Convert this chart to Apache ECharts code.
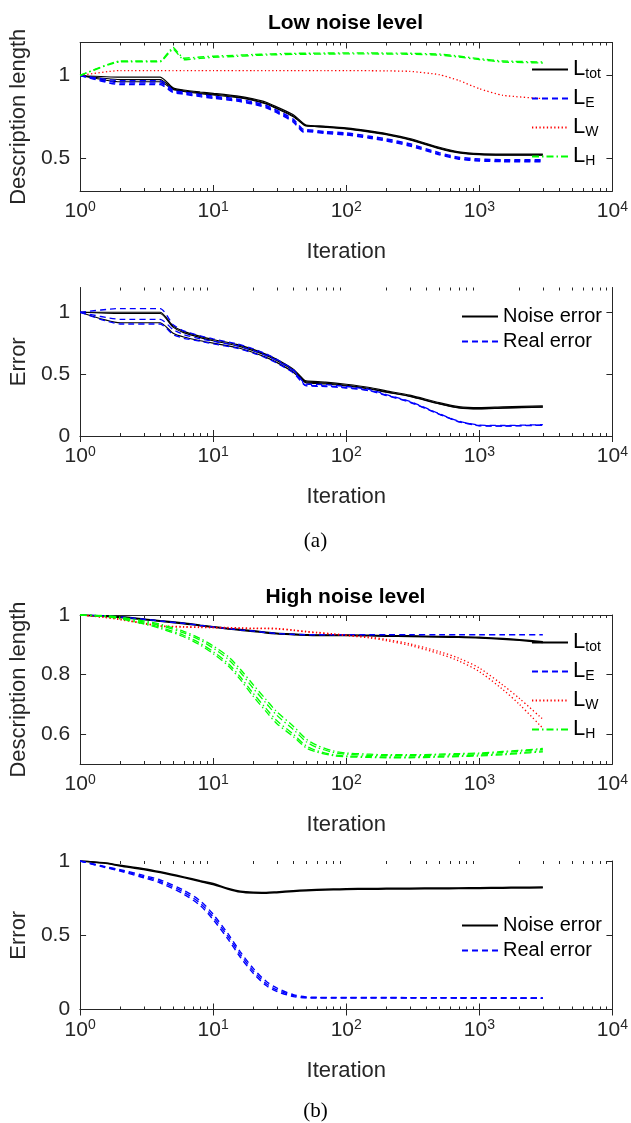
<!DOCTYPE html>
<html><head><meta charset="utf-8">
<script src="https://cdn.jsdelivr.net/npm/echarts@6/dist/echarts.min.js"></script>
<style>html,body{margin:0;padding:0;background:#fff}#c{width:631px;height:1123px}</style>
</head><body><div id="c"></div>
<script>
// ---------- DATA ----------
const lowIter = [1, 2, 4, 5, 6, 8, 10, 15, 20, 25, 30, 40, 48, 50, 70, 100, 150, 200, 300, 500, 700, 1000, 1500, 3000];
// Low noise: description length
const lowLtotA = [1, 0.99, 0.99, 0.925, 0.912, 0.9, 0.892, 0.876, 0.858, 0.838, 0.81, 0.762, 0.708, 0.7, 0.692, 0.682, 0.664, 0.648, 0.618, 0.565, 0.538, 0.526, 0.523, 0.523];
const lowLtotB = [1, 0.975, 0.975, 0.92, 0.907, 0.895, 0.887, 0.871, 0.853, 0.831, 0.803, 0.755, 0.703, 0.696, 0.688, 0.678, 0.66, 0.644, 0.613, 0.56, 0.534, 0.522, 0.519, 0.519];
const lowLtotC = [1, 0.962, 0.962, 0.915, 0.903, 0.89, 0.882, 0.867, 0.849, 0.827, 0.799, 0.75, 0.7, 0.694, 0.686, 0.676, 0.657, 0.641, 0.61, 0.557, 0.531, 0.52, 0.517, 0.517];
const lowLeA = [1, 0.968, 0.968, 0.91, 0.9, 0.885, 0.875, 0.858, 0.84, 0.818, 0.79, 0.735, 0.672, 0.672, 0.66, 0.652, 0.632, 0.616, 0.586, 0.532, 0.505, 0.494, 0.49, 0.49];
const lowLeB = [1, 0.955, 0.955, 0.903, 0.893, 0.878, 0.868, 0.851, 0.833, 0.811, 0.782, 0.726, 0.662, 0.665, 0.654, 0.645, 0.625, 0.609, 0.579, 0.525, 0.498, 0.487, 0.483, 0.483];
const lowLeC = [1, 0.945, 0.945, 0.897, 0.887, 0.872, 0.862, 0.845, 0.827, 0.805, 0.775, 0.718, 0.655, 0.66, 0.649, 0.64, 0.62, 0.603, 0.573, 0.52, 0.493, 0.482, 0.478, 0.478];
const lowLw = [1, 1.03, 1.03, 1.03, 1.03, 1.03, 1.03, 1.03, 1.03, 1.03, 1.03, 1.03, 1.03, 1.03, 1.03, 1.03, 1.029, 1.028, 1.025, 1.005, 0.97, 0.92, 0.88, 0.86];
const lowLhA = [1, 1.088, 1.088, 1.17, 1.105, 1.112, 1.117, 1.123, 1.127, 1.13, 1.132, 1.134, 1.135, 1.135, 1.136, 1.137, 1.137, 1.136, 1.135, 1.13, 1.118, 1.102, 1.088, 1.082];
const lowLhB = [1, 1.083, 1.083, 1.16, 1.095, 1.104, 1.11, 1.116, 1.121, 1.124, 1.126, 1.128, 1.129, 1.129, 1.13, 1.131, 1.131, 1.13, 1.129, 1.124, 1.112, 1.096, 1.082, 1.076];
// Low noise: error
const lowNoiseA = [1, 1.0, 1.0, 0.89, 0.845, 0.805, 0.78, 0.74, 0.70, 0.66, 0.62, 0.54, 0.455, 0.445, 0.435, 0.418, 0.392, 0.365, 0.33, 0.27, 0.238, 0.23, 0.236, 0.243];
const lowNoiseB = [1, 0.99, 0.99, 0.88, 0.835, 0.795, 0.77, 0.73, 0.69, 0.65, 0.61, 0.53, 0.447, 0.437, 0.427, 0.41, 0.384, 0.357, 0.322, 0.262, 0.23, 0.222, 0.228, 0.235];
const lowNoiseC = [1, 0.915, 0.915, 0.83, 0.80, 0.77, 0.75, 0.715, 0.675, 0.635, 0.595, 0.515, 0.44, 0.43, 0.42, 0.405, 0.38, 0.354, 0.32, 0.26, 0.228, 0.22, 0.226, 0.233];
const lowRealA = [1, 1.03, 1.03, 0.9, 0.85, 0.81, 0.785, 0.745, 0.705, 0.663, 0.62, 0.535, 0.43, 0.42, 0.415, 0.4, 0.375, 0.335, 0.28, 0.18, 0.12, 0.088, 0.085, 0.092];
const lowRealB = [1, 0.943, 0.943, 0.86, 0.82, 0.785, 0.765, 0.73, 0.69, 0.65, 0.61, 0.528, 0.42, 0.41, 0.405, 0.392, 0.368, 0.33, 0.276, 0.177, 0.117, 0.085, 0.082, 0.089];
const lowRealC = [1, 0.905, 0.905, 0.82, 0.79, 0.765, 0.745, 0.71, 0.67, 0.63, 0.59, 0.51, 0.415, 0.405, 0.40, 0.388, 0.365, 0.327, 0.273, 0.175, 0.115, 0.083, 0.08, 0.087];

const highIter = [1, 1.5, 2, 3, 4, 6, 8, 10, 13, 16, 20, 25, 30, 40, 50, 60, 80, 100, 150, 200, 300, 500, 700, 1000, 1500, 2000, 3000];
// High noise: description length
const highLtotA = [1, 0.997, 0.994, 0.987, 0.981, 0.973, 0.966, 0.961, 0.955, 0.951, 0.947, 0.942, 0.939, 0.936, 0.934, 0.933, 0.933, 0.933, 0.932, 0.931, 0.93, 0.928, 0.927, 0.925, 0.921, 0.917, 0.91];
const highLtotB = [1, 0.996, 0.992, 0.985, 0.979, 0.971, 0.964, 0.959, 0.953, 0.949, 0.945, 0.94, 0.937, 0.934, 0.932, 0.931, 0.931, 0.931, 0.93, 0.929, 0.928, 0.926, 0.925, 0.923, 0.919, 0.915, 0.908];
const highLe = [1, 0.997, 0.993, 0.986, 0.98, 0.972, 0.965, 0.96, 0.954, 0.95, 0.946, 0.941, 0.938, 0.935, 0.934, 0.934, 0.934, 0.934, 0.934, 0.934, 0.934, 0.934, 0.934, 0.934, 0.934, 0.934, 0.934];
const highLwA = [1, 0.993, 0.986, 0.973, 0.964, 0.961, 0.96, 0.959, 0.958, 0.957, 0.956, 0.956, 0.955, 0.95, 0.945, 0.942, 0.937, 0.933, 0.926, 0.918, 0.903, 0.877, 0.855, 0.822, 0.765, 0.72, 0.65];
const highLwB = [1, 0.992, 0.984, 0.971, 0.962, 0.959, 0.958, 0.957, 0.956, 0.955, 0.954, 0.954, 0.953, 0.948, 0.943, 0.94, 0.935, 0.931, 0.923, 0.914, 0.898, 0.87, 0.846, 0.81, 0.75, 0.7, 0.62];
const highLhA = [1, 0.998, 0.993, 0.98, 0.969, 0.945, 0.921, 0.896, 0.86, 0.818, 0.766, 0.716, 0.676, 0.627, 0.584, 0.563, 0.544, 0.537, 0.533, 0.531, 0.531, 0.533, 0.535, 0.537, 0.542, 0.546, 0.552];
const highLhB = [1, 0.997, 0.991, 0.977, 0.965, 0.94, 0.915, 0.889, 0.851, 0.808, 0.754, 0.704, 0.664, 0.616, 0.575, 0.556, 0.539, 0.533, 0.529, 0.528, 0.528, 0.53, 0.532, 0.534, 0.539, 0.543, 0.549];
const highLhC = [1, 0.996, 0.989, 0.973, 0.959, 0.932, 0.905, 0.877, 0.837, 0.792, 0.737, 0.686, 0.646, 0.6, 0.561, 0.545, 0.531, 0.527, 0.525, 0.524, 0.524, 0.526, 0.528, 0.53, 0.534, 0.538, 0.544];
const highLhD = [1, 0.995, 0.987, 0.97, 0.955, 0.927, 0.899, 0.87, 0.829, 0.783, 0.727, 0.676, 0.636, 0.592, 0.554, 0.54, 0.528, 0.524, 0.522, 0.521, 0.521, 0.523, 0.525, 0.527, 0.531, 0.535, 0.541];
// High noise: error
const highNoiseA = [1, 0.988, 0.971, 0.948, 0.927, 0.893, 0.867, 0.848, 0.815, 0.796, 0.789, 0.788, 0.792, 0.8, 0.805, 0.808, 0.811, 0.813, 0.815, 0.816, 0.817, 0.818, 0.819, 0.82, 0.822, 0.823, 0.825];
const highNoiseB = [1, 0.986, 0.967, 0.943, 0.922, 0.888, 0.862, 0.842, 0.81, 0.791, 0.784, 0.783, 0.787, 0.795, 0.8, 0.803, 0.806, 0.808, 0.81, 0.811, 0.812, 0.813, 0.814, 0.815, 0.817, 0.818, 0.82];
const highRealA = [1, 0.965, 0.942, 0.903, 0.872, 0.803, 0.731, 0.641, 0.507, 0.388, 0.277, 0.19, 0.145, 0.1, 0.085, 0.082, 0.081, 0.081, 0.081, 0.081, 0.08, 0.08, 0.08, 0.079, 0.079, 0.078, 0.078];
const highRealB = [1, 0.962, 0.937, 0.895, 0.862, 0.79, 0.715, 0.623, 0.489, 0.37, 0.26, 0.175, 0.133, 0.093, 0.081, 0.08, 0.08, 0.08, 0.08, 0.08, 0.079, 0.079, 0.079, 0.078, 0.078, 0.077, 0.077];
const highRealC = [1, 0.959, 0.932, 0.887, 0.852, 0.777, 0.699, 0.605, 0.471, 0.352, 0.244, 0.162, 0.122, 0.087, 0.078, 0.077, 0.077, 0.077, 0.077, 0.077, 0.077, 0.077, 0.076, 0.076, 0.076, 0.075, 0.075];

// Axes / ticks
const xMin = 1, xMax = 10000;
const minorTicks = [2,3,4,5,6,7,8,9,20,30,40,50,60,70,80,90,200,300,400,500,600,700,800,900,2000,3000,4000,5000,6000,7000,8000,9000];
const yRanges = [[0.3, 1.2], [0, 1.2], [0.5, 1.0], [0, 1.0]];
const yTicks = [[0.5, 1], [0, 0.5, 1], [0.6, 0.8, 1], [0, 0.5, 1]];
const yNames = ['Description length', 'Error', 'Description length', 'Error'];
const titles = ['Low noise level', 'High noise level'];
const captions = ['(a)', '(b)'];
const subs = { Ltot: 'tot', LE: 'E', LW: 'W', LH: 'H' };

// ---------- CHART ----------
const FONT = '"Liberation Sans", Arial, Helvetica, sans-serif';
const AX = '#262626';
const grids = [
  { left: 77, width: 537, top: 42.5, height: 148.5 },
  { left: 77, width: 537, top: 287.5, height: 148.5 },
  { left: 77, width: 537, top: 615, height: 149 },
  { left: 77, width: 537, top: 861, height: 148.5 }
];

const xAxes = [], yAxes = [];
grids.forEach((g, i) => {
  xAxes.push({
    type: 'log', logBase: 10, min: xMin, max: xMax, gridIndex: i, position: 'bottom',
    axisLine: { show: true, lineStyle: { color: AX, width: 1 } },
    axisTick: { show: true, inside: true, length: 6, lineStyle: { color: AX } },
    splitLine: { show: false },
    axisLabel: {
      margin: 9, color: AX, fontFamily: FONT,
      formatter: v => '{n|10}{e|' + Math.round(Math.log10(v)) + '}',
      rich: {
        n: { fontSize: 21, fontFamily: FONT, color: AX, lineHeight: 22, verticalAlign: 'bottom' },
        e: { fontSize: 14, fontFamily: FONT, color: AX, lineHeight: 14, verticalAlign: 'top' }
      }
    },
    name: 'Iteration', nameLocation: 'middle', nameGap: 50,
    nameTextStyle: { fontSize: 22, fontFamily: FONT, color: AX }
  });
  xAxes.push({
    type: 'log', logBase: 10, min: xMin, max: xMax, gridIndex: i, position: 'top',
    axisLine: { show: true, lineStyle: { color: AX, width: 1 } },
    axisTick: { show: true, inside: true, length: 6, lineStyle: { color: AX } },
    axisLabel: { show: false }, splitLine: { show: false }
  });
  yAxes.push({
    type: 'value', min: yRanges[i][0], max: yRanges[i][1], gridIndex: i, position: 'left',
    axisLine: { show: true, lineStyle: { color: AX, width: 1 } },
    axisTick: { show: true, inside: true, length: 6, lineStyle: { color: AX }, customValues: yTicks[i] },
    axisLabel: { show: true, customValues: yTicks[i], margin: 10, fontSize: 21, fontFamily: FONT, color: AX, formatter: v => String(+v.toFixed(2)) },
    splitLine: { show: false },
    name: yNames[i], nameLocation: 'middle', nameGap: 45,
    nameTextStyle: { fontSize: 22, fontFamily: FONT, color: AX }
  });
  yAxes.push({
    type: 'value', min: yRanges[i][0], max: yRanges[i][1], gridIndex: i, position: 'right',
    axisLine: { show: true, lineStyle: { color: AX, width: 1 } },
    axisTick: { show: true, inside: true, length: 6, lineStyle: { color: AX }, customValues: yTicks[i] },
    axisLabel: { show: false }, splitLine: { show: false }
  });
});

function line(name, xs, ys, panel, color, dash, width, sm) {
  return {
    type: 'line', name: name, xAxisIndex: panel * 2, yAxisIndex: panel * 2,
    data: xs.map((x, k) => [x, ys[k]]),
    symbol: 'none', showSymbol: false, smooth: sm === undefined ? 0.3 : sm, animation: false, silent: true,
    lineStyle: { color: color, width: width || 1.2, type: dash || 'solid' },
    itemStyle: { color: color }, z: 3
  };
}
const DASH = [6, 4], DOT = [1.3, 2.4], DASHDOT = [7, 3, 1.5, 3];
const BLK = '#000000', BLU = '#0000ff', RED = '#ff0000', GRN = '#00ff00';

const series = [
  line('Ltot', lowIter, lowLtotA, 0, BLK, null, 1.2, 0.2), line('Ltot', lowIter, lowLtotB, 0, BLK, null, 1.2, 0.2), line('Ltot', lowIter, lowLtotC, 0, BLK, null, 1.2, 0.2),
  line('LE', lowIter, lowLeA, 0, BLU, DASH, 1.5, 0.2), line('LE', lowIter, lowLeB, 0, BLU, DASH, 1.5, 0.2), line('LE', lowIter, lowLeC, 0, BLU, DASH, 1.5, 0.2),
  line('LW', lowIter, lowLw, 0, RED, DOT, 1.3, 0.2),
  line('LH', lowIter, lowLhA, 0, GRN, DASHDOT, 1.4, 0.15), line('LH', lowIter, lowLhB, 0, GRN, DASHDOT, 1.4, 0.15),

  line('Noise error', lowIter, lowNoiseA, 1, BLK, null, 1.2, 0.2), line('Noise error', lowIter, lowNoiseB, 1, BLK, null, 1.2, 0.2), line('Noise error', lowIter, lowNoiseC, 1, BLK, null, 1.2, 0.2),
  line('Real error', lowIter, lowRealA, 1, BLU, DASH, 1.3, 0.2), line('Real error', lowIter, lowRealB, 1, BLU, DASH, 1.3, 0.2), line('Real error', lowIter, lowRealC, 1, BLU, DASH, 1.3, 0.2),

  line('Ltot', highIter, highLtotA, 2, BLK, null, 1.5), line('Ltot', highIter, highLtotB, 2, BLK, null, 1.5),
  line('LE', highIter, highLe, 2, BLU, DASH, 1.5),
  line('LW', highIter, highLwA, 2, RED, DOT, 1.3), line('LW', highIter, highLwB, 2, RED, DOT, 1.3),
  line('LH', highIter, highLhA, 2, GRN, DASHDOT, 1.3), line('LH', highIter, highLhB, 2, GRN, DASHDOT, 1.3),
  line('LH', highIter, highLhC, 2, GRN, DASHDOT, 1.3), line('LH', highIter, highLhD, 2, GRN, DASHDOT, 1.3),

  line('Noise error', highIter, highNoiseA, 3, BLK, null, 1.5), line('Noise error', highIter, highNoiseB, 3, BLK, null, 1.5),
  line('Real error', highIter, highRealA, 3, BLU, DASH, 1.4), line('Real error', highIter, highRealB, 3, BLU, DASH, 1.4), line('Real error', highIter, highRealC, 3, BLU, DASH, 1.4)
];

// minor ticks on log axes (bottom and top edges)
grids.forEach((g, i) => {
  series.push({
    type: 'custom', xAxisIndex: i * 2, yAxisIndex: i * 2, silent: true, animation: false, z: 4,
    data: minorTicks.map(v => [v, yRanges[i][0]]),
    encode: { x: 0, y: 1 },
    renderItem: function (params, api) {
      const cs = params.coordSys;
      const x = Math.round(api.coord([api.value(0), api.value(1)])[0]) + 0.5;
      const yb = cs.y + cs.height, yt = cs.y;
      return {
        type: 'group', children: [
          { type: 'line', shape: { x1: x, y1: yb, x2: x, y2: yb - 3 }, style: { stroke: AX, lineWidth: 1 } },
          { type: 'line', shape: { x1: x, y1: yt, x2: x, y2: yt + 3 }, style: { stroke: AX, lineWidth: 1 } }
        ]
      };
    }
  });
});

const noSymbol = { color: 'rgba(0,0,0,0)', borderColor: 'rgba(0,0,0,0)', borderWidth: 0, opacity: 0 };
const legRich = {
  m: { fontSize: 22, fontFamily: FONT, color: '#000', lineHeight: 23, verticalAlign: 'top' },
  s: { fontSize: 14, fontFamily: FONT, color: '#000', lineHeight: 14, verticalAlign: 'bottom' }
};
function dlLegend(top) {
  return {
    data: ['Ltot', 'LE', 'LW', 'LH'], orient: 'vertical', left: 531, top: top,
    itemWidth: 36, itemHeight: 14, itemGap: 6, padding: 0, selectedMode: false,
    itemStyle: noSymbol,
    formatter: n => '{m|L}{s|' + subs[n] + '}',
    textStyle: { rich: legRich, fontSize: 22, lineHeight: 27 }
  };
}
function errLegend(top) {
  return {
    data: ['Noise error', 'Real error'], orient: 'vertical', left: 461, top: top,
    itemWidth: 36, itemHeight: 14, itemGap: 4, padding: 0, selectedMode: false,
    itemStyle: noSymbol,
    textStyle: { fontSize: 20, fontFamily: FONT, color: '#000', lineHeight: 21 }
  };
}

const option = {
  backgroundColor: '#ffffff',
  animation: false,
  title: [
    { text: titles[0], left: 345.5, top: 13, textAlign: 'center', textStyle: { fontSize: 21, fontWeight: 'bold', fontFamily: FONT, color: '#000' }, padding: 0 },
    { text: titles[1], left: 345.5, top: 587, textAlign: 'center', textStyle: { fontSize: 21, fontWeight: 'bold', fontFamily: FONT, color: '#000' }, padding: 0 },
    { text: captions[0], left: 315.5, top: 531, textAlign: 'center', textStyle: { fontSize: 21, fontWeight: 'normal', fontFamily: '"Liberation Serif", "DejaVu Serif", serif', color: '#000' }, padding: 0 },
    { text: captions[1], left: 315.5, top: 1101, textAlign: 'center', textStyle: { fontSize: 21, fontWeight: 'normal', fontFamily: '"Liberation Serif", "DejaVu Serif", serif', color: '#000' }, padding: 0 }
  ],
  legend: [dlLegend(58), errLegend(306), dlLegend(631), errLegend(915)],
  grid: grids,
  xAxis: xAxes,
  yAxis: yAxes,
  series: series
};

const chart = echarts.init(document.getElementById('c'), null, { renderer: 'canvas' });
chart.setOption(option);
</script>
</body></html>
